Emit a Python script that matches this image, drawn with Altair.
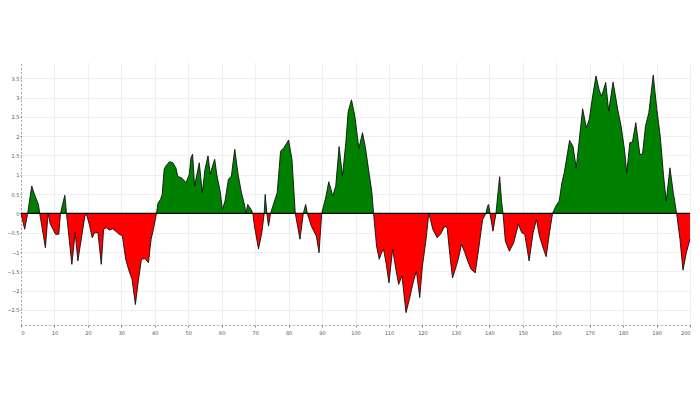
import altair as alt
import pandas as pd

x_vals = [
    0, 1.1, 2.0, 3.2, 4.2, 5.2, 5.6, 7.3, 8.1, 8.7, 10.3, 11.3, 11.8, 13.1, 13.6,
    15.2, 16.2, 17.0, 19.1, 19.6, 20.4, 21.3, 22.0, 23.0, 24.0, 24.7, 25.5, 26.4,
    27.4, 28.3, 29.3, 30.3, 31.3, 32.3, 33.2, 34.2, 35.0, 36.0, 37.1, 38.1, 38.9,
    39.6, 40.5,
    41.0, 41.7, 42.2, 42.8, 43.4, 44.4, 45.4, 46.3, 46.9, 47.9, 48.9, 49.3, 50.3,
    50.8, 51.3, 51.9, 52.5, 53.3, 54.2, 55.0, 55.9, 56.6, 57.1, 57.9, 58.6, 59.6,
    60.2, 61.0, 62.0, 62.9, 63.9, 64.9, 65.9, 66.9, 67.2, 67.8, 68.8, 69.3,
    69.8, 71.0, 72.0, 72.7, 73.0, 73.5, 74.0, 74.6,
    76.6, 77.6, 78.6, 80.0, 81.0, 82.0, 83.4, 84.4, 85.1, 85.6,
    86.8, 88.3, 89.1, 89.9,
    91.2, 92.0, 92.7, 93.2, 94.1, 95.1, 96.1, 97.1, 97.8, 98.8, 99.8, 101.0,
    102.1, 102.9, 103.9, 104.9, 105.4,
    106.3, 107.1, 107.8, 108.4, 109.2, 110.0, 111.1, 112.0, 112.9, 113.9, 115.1,
    116.1, 117.2, 118.2, 119.2, 120.0, 121.1, 121.9,
    122.4, 123.1, 124.4, 125.4, 126.7, 127.4, 128.3, 129.0, 130.0, 130.7, 131.7,
    132.7, 133.6, 134.6, 135.8, 136.8, 138.0, 139.0,
    139.5, 139.8, 140.2, 141.1, 142.0, 142.6, 143.1, 143.7, 144.1,
    144.8, 146.0, 147.3, 148.7, 149.7, 150.6, 151.9, 153.1, 154.1, 155.0, 156.2,
    157.0, 158.0, 158.9,
    159.9, 160.9, 161.7, 162.4, 162.9, 164.0, 165.0, 166.0, 166.8, 167.9, 169.0,
    169.9, 170.9, 171.9, 172.9, 173.6, 174.8, 175.7, 177.0, 178.4, 179.4, 180.4,
    181.1, 182.0, 182.8, 183.8, 185.0, 185.8, 186.7, 187.7, 189.0, 190.1, 191.1,
    192.1, 192.9, 194.0, 195.0, 196.0,
    197.0, 197.9, 198.9, 200.0,
]

y_vals = [
    0, -0.41, 0, 0.71, 0.45, 0.23, 0, -0.89, 0, -0.26, -0.54, -0.54, 0, 0.47, 0,
    -1.32, -0.50, -1.23, -0.07, -0.03, -0.28, -0.63, -0.50, -0.50, -1.32, -0.41,
    -0.37, -0.43, -0.40, -0.46, -0.54, -0.58, -1.19, -1.49, -1.71, -2.36, -1.80,
    -1.19, -1.17, -1.28, -0.67, -0.41, 0,
    0.28, 0.36, 0.49, 1.14, 1.24, 1.34, 1.31, 1.18, 0.95, 0.93, 0.84, 0.79, 1.01,
    1.44, 1.53, 0.71, 0.97, 1.31, 0.54, 1.14, 1.49, 1.01, 1.18, 1.40, 0.97, 0.54,
    0.10, 0.32, 0.88, 0.97, 1.66, 1.01, 0.54, 0.19, 0, 0.23, 0.10, 0,
    -0.33, -0.92, -0.50, 0, 0.49, 0, -0.33, 0,
    0.54, 1.61, 1.70, 1.90, 1.40, 0, -0.67, 0, 0.23, 0,
    -0.33, -0.59, -1.02, 0,
    0.45, 0.82, 0.62, 0.45, 0.71, 1.73, 0.97, 1.83, 2.63, 2.94, 2.52, 1.68,
    2.09, 1.74, 1.14, 0.54, 0,
    -0.85, -1.19, -1.02, -0.93, -1.32, -1.80, -0.93, -1.41, -1.84, -1.62, -2.57,
    -2.23, -1.80, -1.49, -2.18, -1.37, -0.67, 0,
    -0.16, -0.41, -0.63, -0.54, -0.33, -0.37, -1.15, -1.67, -1.40, -1.19, -0.80,
    -1.02, -1.25, -1.45, -1.54, -0.93, -0.16, 0,
    0.19, 0.23, 0, -0.46, 0, 0.54, 0.95, 0.28, 0,
    -0.72, -0.98, -0.76, -0.28, -0.50, -0.54, -1.23, -0.50, -0.16, -0.59, -0.93,
    -1.12, -0.50, 0,
    0.19, 0.32, 0.79, 1.05, 1.31, 1.89, 1.74, 1.18, 1.83, 2.71, 2.22,
    2.44, 3.04, 3.56, 3.17, 3.04, 3.39, 2.65, 3.40, 2.69, 2.26, 1.66,
    1.05, 1.83, 1.85, 2.35, 1.53, 1.53, 2.26, 2.61, 3.58, 2.69, 2.00,
    0.97, 0.32, 1.18, 0.54, 0,
    -0.67, -1.47, -1.02, -0.67,
]

x_ticks = list(range(0, 201, 10))
y_ticks = [-2.5, -2, -1.5, -1, -0.5, 0, 0.5, 1, 1.5, 2, 2.5, 3, 3.5]

df = pd.DataFrame({"x": x_vals, "y": y_vals})

x_scale = alt.Scale(domain=[0, 200], nice=False, zero=False)
y_scale = alt.Scale(domain=[-2.89, 3.92], nice=False, zero=False)

x_axis = alt.Axis(values=x_ticks, title=None, labelFontSize=5, labelColor="#555",
                  tickSize=2, tickColor="#888", domainColor="#666",
                  domainDash=[1, 3], gridColor="#efefef", labelPadding=3,
                  labelOverlap=False, labelFont="DejaVu Sans")
y_axis = alt.Axis(values=y_ticks, title=None, format="~g", labelFontSize=5,
                  labelColor="#555", tickSize=1, tickColor="#888",
                  domainColor="#666", domainDash=[1, 3], gridColor="#efefef",
                  labelPadding=1, labelOverlap=False, labelFont="DejaVu Sans")

X = alt.X("x:Q", scale=x_scale, axis=x_axis)

base = alt.Chart(df)

pos = base.transform_calculate(yp="max(datum.y, 0)").mark_area(
    color="#008000", opacity=1
).encode(
    x=X,
    y=alt.Y("yp:Q", scale=y_scale, axis=y_axis, stack=None),
    y2=alt.datum(0),
)

neg = base.transform_calculate(yn="min(datum.y, 0)").mark_area(
    color="#ff0000", opacity=1
).encode(
    x=X,
    y=alt.Y("yn:Q", scale=y_scale, axis=y_axis, stack=None),
    y2=alt.datum(0),
)

outline = base.mark_line(color="#111", strokeWidth=0.9).encode(
    x=X,
    y=alt.Y("y:Q", scale=y_scale, axis=y_axis),
)

zero = alt.Chart(pd.DataFrame({"z": [0]})).mark_rule(
    color="black", strokeWidth=1.2
).encode(y=alt.Y("z:Q", scale=y_scale, axis=y_axis))

chart = alt.layer(pos, neg, outline, zero).properties(
    width=669,
    height=263,
    autosize=alt.AutoSizeParams(type="none"),
    padding={"left": 13, "top": 54, "right": 2, "bottom": 60},
).configure_view(stroke=None)

chart.save("out.html", embed_options={"renderer": "svg", "actions": False})
